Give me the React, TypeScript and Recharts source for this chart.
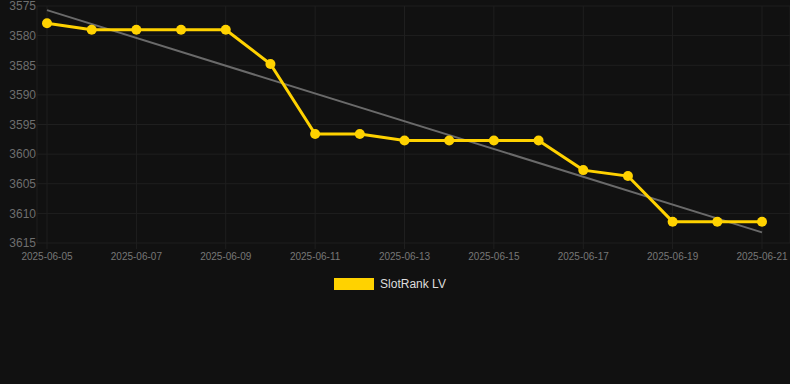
import { CartesianGrid, Legend, Line, LineChart, XAxis, YAxis } from 'recharts'

const dates = [
  '2025-06-05', '2025-06-06', '2025-06-07', '2025-06-08', '2025-06-09', '2025-06-10',
  '2025-06-11', '2025-06-12', '2025-06-13', '2025-06-14', '2025-06-15', '2025-06-16',
  '2025-06-17', '2025-06-18', '2025-06-19', '2025-06-20', '2025-06-21',
]
const ranks = [
  3577.9, 3579, 3579, 3579, 3579, 3584.8, 3596.6, 3596.6, 3597.7,
  3597.7, 3597.7, 3597.7, 3602.7, 3603.7, 3611.4, 3611.4, 3611.4,
]
// trend line end points
const trendEnds = [3575.7, 3613.2]
const dateTicks = [
  '2025-06-05', '2025-06-07', '2025-06-09', '2025-06-11', '2025-06-13',
  '2025-06-15', '2025-06-17', '2025-06-19', '2025-06-21',
]
const rankTicks = [3575, 3580, 3585, 3590, 3595, 3600, 3605, 3610, 3615]

const data = dates.map((date, i) => ({
  date,
  rank: ranks[i],
  trend: i === 0 ? trendEnds[0] : i === dates.length - 1 ? trendEnds[1] : null,
}))

const YELLOW = '#FFD200'
const FONT = 'Arial, "Liberation Sans", sans-serif'

function LegendContent() {
  return (
    <div style={{ display: 'flex', justifyContent: 'center', alignItems: 'center', height: 20, fontFamily: FONT, paddingRight: 10 }}>
      <span style={{ display: 'inline-block', width: 40, height: 12, background: YELLOW, marginRight: 6 }} />
      <span style={{ color: '#dddddd', fontSize: 12 }}>SlotRank LV</span>
    </div>
  )
}

export default function App() {
  return (
    <div style={{ position: 'fixed', left: 0, top: 0, width: 790, height: 384, background: '#111111' }}>
      <LineChart width={790} height={384} data={data} margin={{ top: 6, right: 0, bottom: 90, left: 0 }}>
        <CartesianGrid stroke="#1f1f1f" strokeWidth={1} />
        <XAxis
          dataKey="date"
          ticks={dateTicks}
          interval={0}
          padding={{ left: 10, right: 28 }}
          height={31}
          axisLine={false}
          tickLine={{ stroke: '#1f1f1f' }}
          tickSize={6}
          tickMargin={4}
          tick={{ fill: '#777777', fontSize: 10, fontFamily: FONT }}
        />
        <YAxis
          type="number"
          domain={[3575, 3615]}
          ticks={rankTicks}
          interval={0}
          reversed
          width={37}
          axisLine={false}
          tickLine={false}
          tickSize={0}
          tickMargin={1}
          tick={{ fill: '#6e6e6e', fontSize: 12, fontFamily: FONT }}
        />
        <Legend verticalAlign="bottom" height={20} content={() => <LegendContent />} />
        <Line
          dataKey="trend"
          connectNulls
          stroke="#6a6a6a"
          strokeWidth={2}
          dot={false}
          activeDot={false}
          isAnimationActive={false}
          legendType="none"
        />
        <Line
          dataKey="rank"
          stroke={YELLOW}
          strokeWidth={3}
          dot={{ r: 5, fill: YELLOW, stroke: YELLOW, strokeWidth: 0 }}
          isAnimationActive={false}
        />
      </LineChart>
    </div>
  )
}
